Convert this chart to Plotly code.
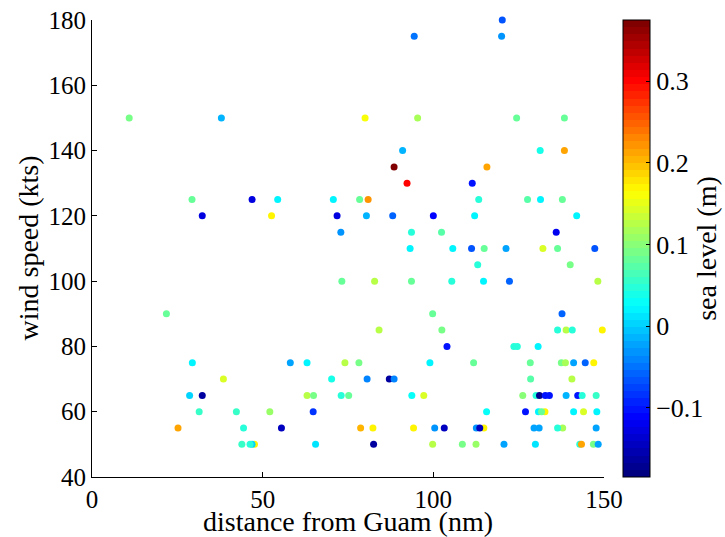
import plotly.graph_objects as go

# Typhoon observations: distance from Guam (nm), wind speed (kts), sea level (m)
distance_nm = [
    10.9, 37.9, 29.3, 32.3, 46.9, 94.4, 80.0, 95.4, 91.0, 88.5,
    92.3, 54.4, 70.7, 78.4, 80.9, 52.6, 71.8, 80.4, 88.1, 100.0,
    72.9, 93.6, 93.2, 120.2, 120.0, 124.4, 138.4, 131.3, 138.4, 115.7,
    111.4, 113.3, 127.6, 131.4, 137.8, 112.1, 142.0, 102.4, 136.0, 105.7,
    111.2, 114.9, 121.3, 132.1, 136.4, 147.3, 21.8, 29.4, 38.5, 28.6,
    32.3, 31.4, 42.3, 25.2, 44.4, 43.9, 47.6, 46.9, 46.3, 73.2,
    82.8, 93.6, 99.8, 84.1, 58.1, 63.0, 74.1, 78.2, 99.0, 70.2,
    80.6, 87.1, 88.5, 63.0, 64.9, 73.0, 75.2, 93.7, 97.2, 52.1,
    64.8, 55.5, 78.7, 82.3, 94.2, 100.4, 65.5, 82.5, 99.8, 113.0,
    140.1, 105.4, 114.7, 122.3, 148.2, 137.7, 102.5, 136.4, 138.9, 140.7,
    149.5, 104.0, 123.6, 124.6, 130.7, 111.8, 128.4, 137.5, 138.7, 141.1,
    144.5, 147.0, 128.5, 140.6, 126.2, 130.1, 131.1, 132.8, 134.0, 138.9,
    142.3, 143.6, 147.7, 115.6, 127.0, 130.8, 132.7, 131.7, 141.1, 144.0,
    147.9, 103.2, 112.6, 114.8, 113.6, 129.5, 131.0, 137.9, 136.4, 147.7,
    108.5, 112.5, 120.7, 129.9, 142.9, 143.4, 146.9, 148.3,
]
wind_kts = [
    150, 150, 125, 120, 125, 175, 150, 150, 140, 135,
    130, 125, 125, 125, 125, 120, 120, 120, 120, 120,
    115, 115, 110, 180, 175, 150, 150, 140, 140, 135,
    130, 125, 125, 125, 125, 120, 120, 115, 115, 110,
    110, 110, 110, 110, 110, 110, 90, 75, 70, 65,
    65, 60, 60, 55, 55, 50, 50, 50, 50, 100,
    100, 100, 90, 85, 75, 75, 75, 75, 75, 70,
    70, 70, 70, 65, 65, 65, 65, 65, 65, 60,
    60, 55, 55, 55, 55, 55, 50, 50, 50, 105,
    105, 100, 100, 100, 100, 90, 85, 85, 85, 85,
    85, 80, 80, 80, 80, 75, 75, 75, 75, 75,
    75, 75, 70, 70, 65, 65, 65, 65, 65, 65,
    65, 65, 65, 60, 60, 60, 60, 60, 60, 60,
    60, 55, 55, 55, 55, 55, 55, 55, 55, 55,
    50, 50, 50, 50, 50, 50, 50, 50,
]
sea_level_m = [
    0.09, -0.01, 0.08, -0.13, -0.13, -0.05, 0.16, 0.12, -0.01, 0.37,
    0.30, 0.02, 0.02, 0.08, 0.22, 0.17, -0.13, -0.01, -0.06, -0.11,
    -0.03, 0.05, 0.02, -0.07, -0.03, 0.08, 0.08, 0.04, 0.21, 0.21,
    -0.10, 0.05, 0.07, 0.02, 0.08, 0.02, 0.02, 0.07, -0.12, 0.02,
    -0.07, 0.08, -0.02, 0.14, 0.08, -0.07, 0.08, 0.02, 0.14, 0.0,
    -0.16, 0.06, 0.06, 0.21, 0.05, 0.06, 0.17, 0.0, 0.05, 0.08,
    0.13, 0.08, 0.08, 0.13, -0.02, 0.02, 0.13, 0.09, 0.02, 0.04,
    -0.04, -0.16, -0.04, 0.13, 0.09, 0.05, 0.08, 0.03, 0.14, 0.11,
    -0.08, -0.15, 0.20, 0.17, 0.17, -0.03, 0.01, -0.16, 0.13, 0.05,
    0.09, 0.05, 0.02, -0.06, 0.13, -0.06, 0.09, 0.05, 0.13, 0.05,
    0.17, -0.10, 0.05, 0.05, 0.02, 0.08, 0.08, 0.09, 0.12, -0.02,
    -0.06, 0.17, 0.07, 0.13, 0.10, 0.05, -0.17, -0.10, -0.10, -0.01,
    -0.10, 0.05, 0.06, 0.03, -0.10, 0.02, 0.17, 0.08, 0.02, 0.14,
    0.02, -0.15, -0.03, 0.17, -0.15, -0.02, -0.02, 0.12, 0.05, -0.02,
    0.09, 0.11, -0.02, 0.01, 0.05, 0.21, 0.09, -0.02,
]

x_ticks = [0, 50, 100, 150]
y_ticks = [40, 60, 80, 100, 120, 140, 160, 180]
cbar_ticks = [-0.1, 0, 0.1, 0.2, 0.3]
cbar_labels = ["\u22120.1", "0", "0.1", "0.2", "0.3"]
c_min, c_max = -0.185, 0.375


def jet_scale(n=64):
    """Stepped jet colormap with n bands."""
    def clip(v):
        return max(0.0, min(1.0, v))
    scale = []
    for i in range(n):
        t = i / (n - 1)
        r = clip(1.5 - abs(4 * t - 3))
        g = clip(1.5 - abs(4 * t - 2))
        b = clip(1.5 - abs(4 * t - 1))
        col = f"rgb({round(r*255)},{round(g*255)},{round(b*255)})"
        scale.append([i / n, col])
        scale.append([(i + 1) / n, col])
    return scale


FONT = "Liberation Serif"
TICK_SIZE = 25
TITLE_SIZE = 28

fig = go.Figure(
    go.Scatter(
        x=distance_nm,
        y=wind_kts,
        mode="markers",
        cliponaxis=False,
        marker=dict(
            size=7,
            color=sea_level_m,
            colorscale=jet_scale(),
            cmin=c_min,
            cmax=c_max,
            line=dict(width=0),
            colorbar=dict(
                x=1.037,
                xanchor="left",
                xpad=0,
                ypad=0,
                y=0.5,
                len=1,
                thickness=27,
                outlinewidth=1,
                outlinecolor="black",
                tickvals=cbar_ticks,
                ticktext=cbar_labels,
                ticks="inside",
                ticklen=4,
                tickcolor="black",
                tickfont=dict(family=FONT, size=TICK_SIZE + 1, color="black"),
                title=dict(
                    text="sea level (m)",
                    side="right",
                    font=dict(family=FONT, size=TITLE_SIZE, color="black"),
                ),
            ),
        ),
        showlegend=False,
    )
)

axis_common = dict(
    showline=True,
    linecolor="black",
    linewidth=1,
    mirror=False,
    ticks="inside",
    ticklen=5,
    tickcolor="black",
    showgrid=False,
    zeroline=False,
    automargin=False,
    tickfont=dict(family=FONT, size=TICK_SIZE, color="black"),
)

fig.update_xaxes(range=[0, 150], tickvals=x_ticks, **axis_common)
fig.update_yaxes(range=[40, 180], tickvals=y_ticks, **axis_common)

title_font = dict(family=FONT, size=TITLE_SIZE, color="black")
fig.add_annotation(
    text="distance from Guam (nm)", xref="paper", yref="paper",
    x=0.5, y=-0.097, xanchor="center", yanchor="middle",
    showarrow=False, font=title_font,
)
fig.add_annotation(
    text="wind speed (kts)", xref="paper", yref="paper",
    x=-0.125, y=0.5, xanchor="center", yanchor="middle", textangle=-90,
    showarrow=False, font=title_font,
)

fig.update_layout(
    width=725,
    height=537,
    margin=dict(l=92, r=121, t=20, b=60, autoexpand=False),
    paper_bgcolor="white",
    plot_bgcolor="white",
)

fig.write_html("out.html")
